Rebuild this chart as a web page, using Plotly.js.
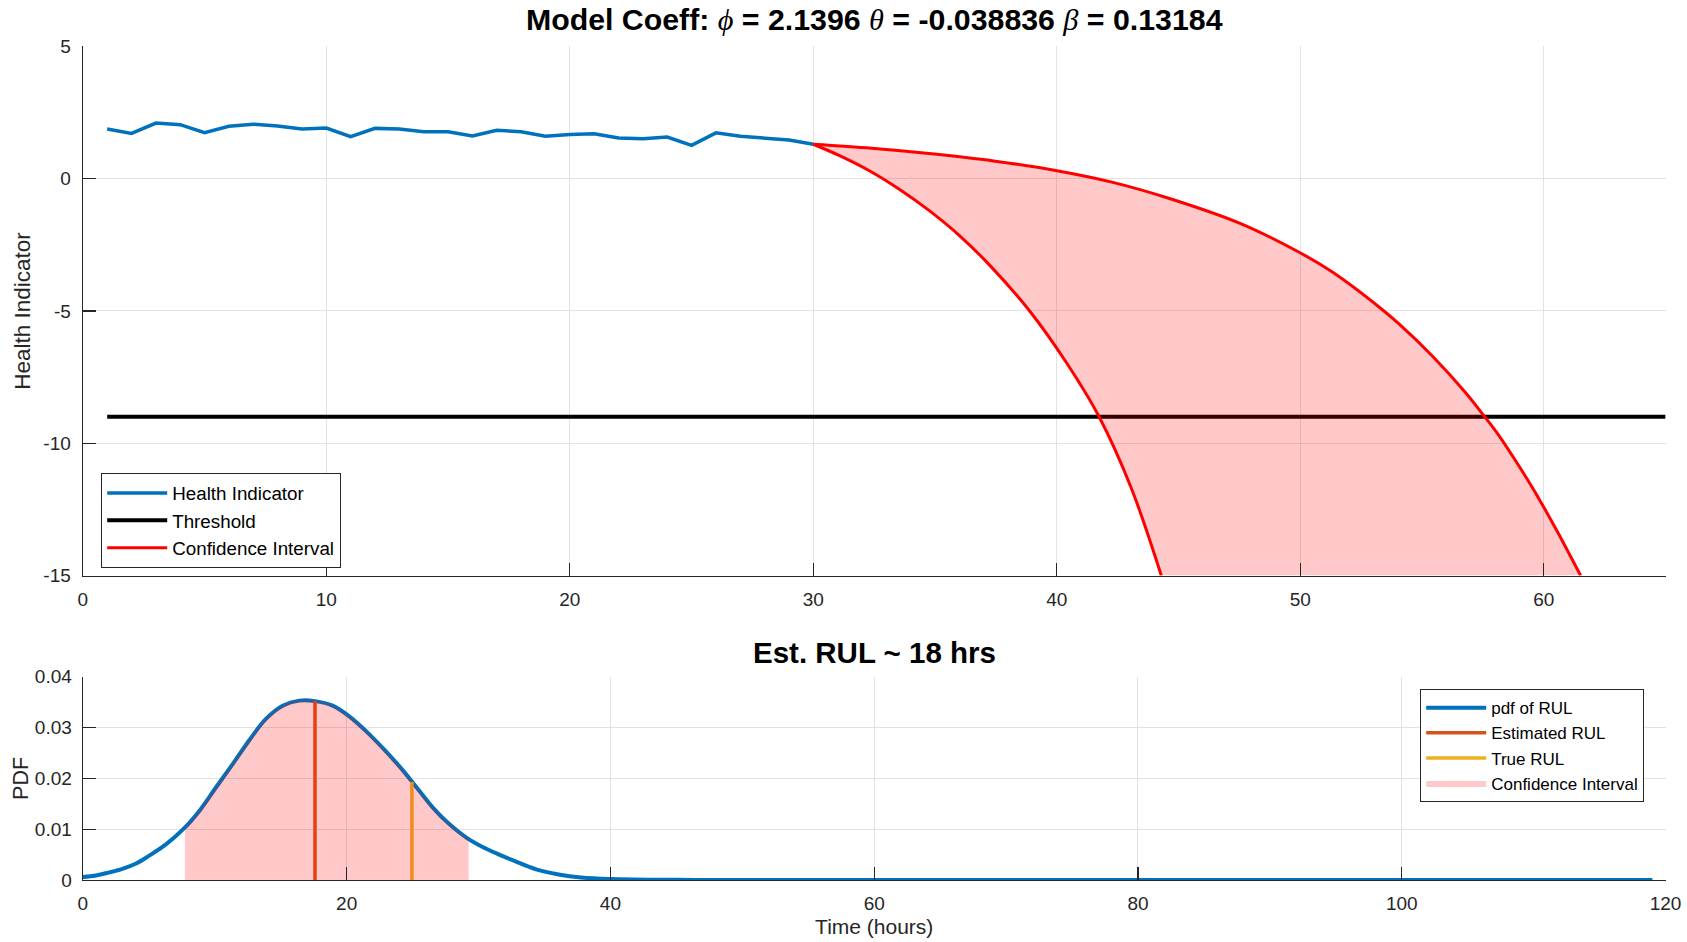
<!DOCTYPE html>
<html>
<head>
<meta charset="utf-8">
<script src="https://cdn.plot.ly/plotly-3.0.1.min.js"></script>
<style>
  html, body { margin: 0; padding: 0; background: #ffffff; }
  #chart { width: 1687px; height: 942px; }
</style>
</head>
<body>
<div id="chart"></div>
<script>
// ---------- Data ----------
const hiTime = [1,2,3,4,5,6,7,8,9,10,11,12,13,14,15,16,17,18,19,20,21,22,23,24,25,26,27,28,29,30];
const hiValues = [1.88,1.71,2.10,2.04,1.74,1.98,2.06,1.99,1.88,1.91,1.59,1.90,1.88,1.77,1.77,1.61,1.83,1.77,1.60,1.67,1.70,1.54,1.51,1.57,1.26,1.73,1.60,1.54,1.46,1.30];

const thresholdTime = [1, 65];
const thresholdValues = [-9, -9];

const ciUpperTime = [30, 32.4, 34.75, 37.4, 40, 42.3, 44.56, 47.5, 49.93, 51.3, 53.22, 54.04, 55.41, 56.78, 57.53, 58.15, 58.84, 59.52, 60.0, 60.62, 61.51];
const ciUpperValues = [1.30, 1.15, 0.95, 0.67, 0.30, -0.14, -0.73, -1.68, -2.77, -3.52, -4.84, -5.48, -6.69, -8.08, -8.95, -9.70, -10.66, -11.66, -12.42, -13.45, -15.0];

const ciLowerTime = [30, 31.1, 32.3, 33.5, 34.75, 36.0, 37.2, 38.9, 40.37, 41.72, 43.06, 44.29];
const ciLowerValues = [1.30, 0.86, 0.30, -0.38, -1.20, -2.15, -3.23, -5.02, -6.92, -8.97, -11.70, -15.0];

const pdfTime = [0, 1, 2, 3, 4, 5.04, 6.30, 7.69, 8.83, 10.09, 11.36, 12.62, 13.88, 15.15, 16.41, 17.6, 18.94, 20.2, 21.47, 22.73, 23.99, 24.95, 26.52, 27.78, 29.05, 30.31, 31.57, 32.68, 34.37, 36.07, 37.76, 40, 45, 50, 60, 80, 100, 119];
const pdfValues = [0.0006, 0.0009, 0.0015, 0.0022, 0.0032, 0.0048, 0.0070, 0.0102, 0.0136, 0.0182, 0.0228, 0.0275, 0.0317, 0.0343, 0.0353, 0.0352, 0.0343, 0.0322, 0.0293, 0.0260, 0.0224, 0.0194, 0.0143, 0.0110, 0.0084, 0.0065, 0.0050, 0.0038, 0.0021, 0.0011, 0.0005, 0.0002, 0.00003, 0.00001, 0, 0, 0, 0];

const ciBandTime = [7.74, 8.83, 10.09, 11.36, 12.62, 13.88, 15.15, 16.41, 17.6, 18.94, 20.2, 21.47, 22.73, 23.99, 24.95, 26.52, 27.78, 29.05, 29.25];
const ciBandPdf = [0.0103, 0.0136, 0.0182, 0.0228, 0.0275, 0.0317, 0.0343, 0.0353, 0.0352, 0.0343, 0.0322, 0.0293, 0.0260, 0.0224, 0.0194, 0.0143, 0.0110, 0.0084, 0.0081];

const estRUL = 17.6, estRULPdf = 0.0352;
const trueRUL = 24.95, trueRULPdf = 0.0193;

const topYTickVals = [-15, -10, -5, 0, 5];
const topYTickText = ['-15', '-10', '-5', '0', '5'];

const G = (c) => '<span style="font-weight:normal;font-family:\'Liberation Serif\',serif"><i>' + c + '</i></span>';
const mainTitle = 'Model Coeff: ' + G('ϕ') + ' = 2.1396 ' + G('θ') + ' = -0.038836 ' + G('β') + ' = 0.13184';
const subTitle = 'Est. RUL ~ 18 hrs';

// ---------- Styles ----------
const FONT = 'Liberation Sans, Arial, sans-serif';
const AX = '#262626';
const GRID = '#e2e2e2';
const BLUE = '#0072BD';
const RED = '#FF0000';
const PINK = 'rgba(255,0,0,0.21)';

const traces = [
  { x: hiTime, y: hiValues, type: 'scatter', mode: 'lines', name: 'Health Indicator',
    line: { color: BLUE, width: 3.5 }, xaxis: 'x', yaxis: 'y', legend: 'legend' },
  { x: thresholdTime, y: thresholdValues, type: 'scatter', mode: 'lines', name: 'Threshold',
    line: { color: '#000000', width: 4 }, xaxis: 'x', yaxis: 'y', legend: 'legend' },
  { x: ciUpperTime, y: ciUpperValues, type: 'scatter', mode: 'lines', name: 'Confidence Interval',
    line: { color: RED, width: 3, shape: 'spline', smoothing: 1 }, xaxis: 'x', yaxis: 'y', legend: 'legend' },
  { x: ciLowerTime, y: ciLowerValues, type: 'scatter', mode: 'lines', name: 'Confidence Interval (lower)',
    line: { color: RED, width: 3, shape: 'spline', smoothing: 1 }, fill: 'tonexty', fillcolor: PINK,
    showlegend: false, xaxis: 'x', yaxis: 'y' },

  { x: pdfTime, y: pdfValues, type: 'scatter', mode: 'lines', name: 'pdf of RUL',
    line: { color: BLUE, width: 4, shape: 'spline', smoothing: 1 }, xaxis: 'x2', yaxis: 'y2', legend: 'legend2' },
  { x: [estRUL, estRUL], y: [0, estRULPdf], type: 'scatter', mode: 'lines', name: 'Estimated RUL',
    line: { color: '#D95319', width: 3.5 }, xaxis: 'x2', yaxis: 'y2', legend: 'legend2' },
  { x: [trueRUL, trueRUL], y: [0, trueRULPdf], type: 'scatter', mode: 'lines', name: 'True RUL',
    line: { color: '#EDB120', width: 3.5 }, xaxis: 'x2', yaxis: 'y2', legend: 'legend2' },
  { x: ciBandTime, y: ciBandPdf, type: 'scatter', mode: 'lines', name: 'Confidence Interval',
    line: { width: 0, shape: 'spline', smoothing: 1 }, fill: 'tozeroy', fillcolor: PINK,
    xaxis: 'x2', yaxis: 'y2', legend: 'legend2' }
];

function axisBase(extra) {
  return Object.assign({
    showline: true, linecolor: AX, linewidth: 1.2, mirror: false,
    ticks: 'inside', ticklen: 13, tickcolor: AX, tickwidth: 1.2,
    showgrid: true, gridcolor: GRID, gridwidth: 1, zeroline: false,
    tickfont: { family: FONT, size: 19, color: AX },
    automargin: false, fixedrange: true
  }, extra);
}

const xDom = [0.0491, 0.9873];
const layout = {
  width: 1687, height: 942,
  margin: { l: 0, r: 0, t: 0, b: 0 },
  paper_bgcolor: '#ffffff', plot_bgcolor: '#ffffff',
  font: { family: FONT, color: AX },
  showlegend: true,
  title: { text: mainTitle, x: (xDom[0] + xDom[1]) / 2, xanchor: 'center', xref: 'paper',
           y: 1 - 19.5 / 942, yanchor: 'middle', yref: 'paper',
           font: { family: FONT, size: 30.3, color: '#000000', weight: 'bold' } },
  xaxis: axisBase({ domain: xDom, anchor: 'y', range: [0, 65], tick0: 0, dtick: 10, ticklabelstandoff: 6 }),
  yaxis: axisBase({ domain: [0.3890, 0.9508], anchor: 'x', range: [-15, 5], tickmode: 'array',
    tickvals: topYTickVals, ticktext: topYTickText, ticklabelstandoff: 7,
    title: { text: 'Health Indicator', font: { family: FONT, size: 22.5, color: AX }, standoff: 6 } }),
  xaxis2: axisBase({ domain: xDom, anchor: 'y2', range: [0, 120], tick0: 0, dtick: 20, ticklabelstandoff: 6,
    title: { text: 'Time (hours)', font: { family: FONT, size: 21, color: AX }, standoff: 6 } }),
  yaxis2: axisBase({ domain: [0.0658, 0.2816], anchor: 'x2', range: [0, 0.04], tick0: 0, dtick: 0.01, ticklabelstandoff: 6,
    title: { text: 'PDF', font: { family: FONT, size: 21.5, color: AX }, standoff: 0 } }),
  legend: { x: 101 / 1687, y: 1 - 473 / 942, xanchor: 'left', yanchor: 'top', traceorder: 'normal',
    bgcolor: '#ffffff', bordercolor: AX, borderwidth: 1.2,
    font: { family: FONT, size: 18.8, color: '#000000' }, tracegroupgap: 0, itemwidth: 60 },
  legend2: { x: 1420 / 1687, y: 1 - 689 / 942, xanchor: 'left', yanchor: 'top', traceorder: 'normal',
    bgcolor: '#ffffff', bordercolor: AX, borderwidth: 1.2,
    font: { family: FONT, size: 17, color: '#000000' }, tracegroupgap: 0, itemwidth: 60 },
  annotations: [
    { text: '<b>' + subTitle + '</b>', xref: 'paper', yref: 'paper', x: (xDom[0] + xDom[1]) / 2, y: 1 - 652 / 942,
      xanchor: 'center', yanchor: 'middle', showarrow: false,
      font: { family: FONT, size: 29.5, color: '#000000' } }
  ]
};

Plotly.newPlot('chart', traces, layout, { displayModeBar: false, staticPlot: true });
</script>
</body>
</html>
